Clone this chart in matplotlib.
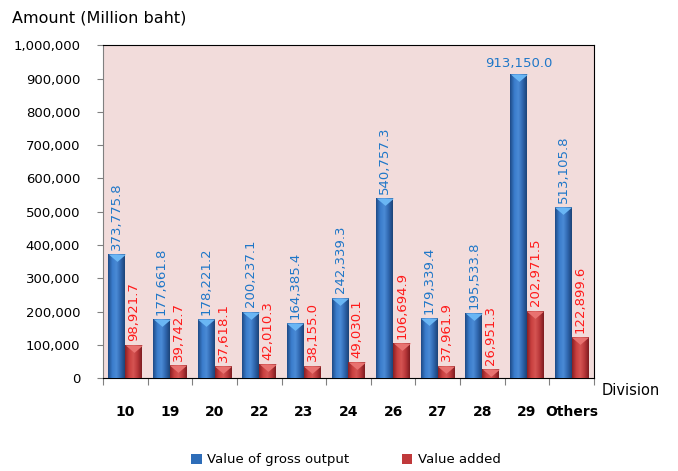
import matplotlib
matplotlib.use("Agg")
import matplotlib.pyplot as plt
import numpy as np
from matplotlib.colors import LinearSegmentedColormap
from matplotlib.ticker import FuncFormatter, FixedLocator

divisions = ["10", "19", "20", "22", "23", "24", "26", "27", "28", "29", "Others"]
gross_output = [373775.8, 177661.8, 178221.2, 200237.1, 164385.4, 242339.3,
                540757.3, 179339.4, 195533.8, 913150.0, 513105.8]
value_added = [98921.7, 39742.7, 37618.1, 42010.3, 38155.0, 49030.1,
               106694.9, 37961.9, 26951.3, 202971.5, 122899.6]

plt.rcParams["font.family"] = ["DejaVu Sans"]

fig = plt.figure(figsize=(6.78, 4.71), dpi=100)
ax = fig.add_axes([0.152, 0.197, 0.724, 0.707])
ax.set_facecolor("#F2DCDB")

x = np.arange(len(divisions))
w = 0.38
b1 = ax.bar(x - w / 2, gross_output, w, color="#2E6DB8", edgecolor="none",
            label="Value of gross output", zorder=3)
b2 = ax.bar(x + w / 2, value_added, w, color="#C0393B", edgecolor="none",
            label="Value added", zorder=3)

# cylinder-like shading inside each bar
blue_grad = LinearSegmentedColormap.from_list(
    "bg", ["#1E4A86", "#3A7CCB", "#4A8BD6", "#2F66AE", "#1C4478"])
red_grad = LinearSegmentedColormap.from_list(
    "rg", ["#8A2024", "#C9403F", "#D55452", "#B8373A", "#7E1C20"])
grad = np.linspace(0, 1, 64).reshape(1, -1)
for bars, cm in [(b1, blue_grad), (b2, red_grad)]:
    for bar in bars:
        x0, h, bw = bar.get_x(), bar.get_height(), bar.get_width()
        im = ax.imshow(grad, cmap=cm, aspect="auto", zorder=3.5,
                       extent=[x0, x0 + bw, 0, h])
        im.set_clip_path(bar)

# flat highlight triangle at the top of each bar
tri = [(-1, 0), (1, 0), (0, -0.85), (-1, 0)]
ax.plot(x - w / 2, gross_output, ls="none", marker=tri, ms=12.5,
        color="#6AB6F4", mec="none", zorder=4)
ax.plot(x + w / 2, value_added, ls="none", marker=tri, ms=12.5,
        color="#E87270", mec="none", zorder=4)

for xi, v in zip(x, gross_output):
    ax.annotate(f"{v:,.1f}", (xi - w / 2, v), xytext=(0, 3),
                textcoords="offset points", rotation=90 if v < 900000 else 0,
                ha="center", va="bottom", color="#1F77C8", fontsize=9.5)
for xi, v in zip(x, value_added):
    ax.annotate(f"{v:,.1f}", (xi + w / 2, v), xytext=(0, 3),
                textcoords="offset points", rotation=90,
                ha="center", va="bottom", color="#FF1A1A", fontsize=9.5)

ax.set_xlim(-0.5, len(divisions) - 0.5)
ax.set_ylim(0, 1000000)
ax.set_yticks(np.arange(0, 1000001, 100000))
ax.yaxis.set_major_formatter(FuncFormatter(lambda v, _: f"{v:,.0f}"))
ax.tick_params(axis="y", labelsize=9.5, length=4, color="#808080", pad=12.5)

ax.xaxis.set_major_locator(FixedLocator(np.arange(-0.5, len(divisions), 1)))
ax.set_xticklabels([])
ax.xaxis.set_minor_locator(FixedLocator(x))
ax.set_xticklabels(divisions, minor=True, fontsize=10, fontweight="bold")
ax.tick_params(axis="x", which="major", length=5, color="#808080", direction="out")
ax.tick_params(axis="x", which="minor", length=0, pad=19)

ax.spines["left"].set_color("#808080")
ax.spines["top"].set_color("black")
ax.spines["right"].set_color("black")
ax.spines["bottom"].set_color("black")

fig.text(0.017, 0.962, "Amount (Million baht)", fontsize=11.5, va="center")
fig.text(0.93, 0.17, "Division", fontsize=10.5, ha="center", va="center")

fig.legend(handles=[b1, b2], loc="lower center", bbox_to_anchor=(0.51, -0.015),
           ncol=2, frameon=False, fontsize=9.5, handlelength=0.8, handleheight=0.8,
           handletextpad=0.4, columnspacing=4)

fig.savefig("out.png", dpi=100)
